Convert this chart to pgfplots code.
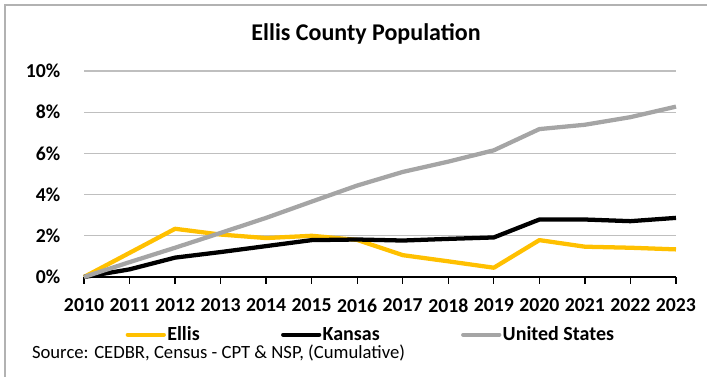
\documentclass[border=0pt]{standalone}
\usepackage{fontspec}
\setmainfont{Carlito}
\usepackage{pgfplots}
\pgfplotsset{compat=1.18}

\definecolor{ellisgold}{HTML}{FFC000}
\definecolor{usgray}{HTML}{A5A5A5}
\definecolor{gridgray}{HTML}{BFBFBF}

\begin{document}
\begin{tikzpicture}
% frame of the whole picture, 1px = 0.75pt
\path[use as bounding box] (0,0) rectangle (530.25pt,282.75pt);
\draw[gray!60, line width=1.2pt] (3.75pt,0) -- (3.75pt,279pt) -- (530.25pt,279pt);

\node[font=\bfseries\fontsize{18}{20}\selectfont] at (274.5pt,257.25pt) {Ellis County Population};

\begin{axis}[
    at={(63pt,75pt)}, anchor=south west,
    width=444pt, height=154.5pt, scale only axis,
    xmin=2010, xmax=2023, ymin=0, ymax=10,
    clip=false,
    axis lines*=left,
    y axis line style={draw=none},
    x axis line style={black, line width=1pt},
    xtick={2010,...,2023},
    ytick={0,2,4,6,8,10},
    tick align=outside,
    major tick length=5.25pt,
    xtick style={black, line width=1pt},
    ytick style={draw=none},
    ymajorgrids,
    grid style={gridgray, line width=1pt},
    /pgf/number format/assume math mode=true,
    /pgf/number format/1000 sep={},
    ticklabel style={font=\bfseries\fontsize{14.8}{16}\selectfont},
    yticklabel={\pgfmathprintnumber{\tick}\%},
    yticklabel style={xshift=-9pt},
    xticklabel style={yshift=-7.5pt},
    legend style={
        at={(axis description cs:0.484,-0.28)}, anchor=center,
        draw=none, fill=none,
        legend columns=3,
        font=\bfseries\fontsize{15}{16}\selectfont,
        /tikz/every even column/.append style={column sep=60pt},
        nodes={inner xsep=1pt},
    },
    legend image code/.code={\draw[#1, line cap=round] (0pt,0pt) -- (27pt,0pt);},
    every axis plot/.append style={line width=3.2pt, line join=round},
]
\addplot[ellisgold] coordinates {
    (2010,0) (2011,1.17) (2012,2.34) (2013,2.06) (2014,1.89) (2015,2.00) (2016,1.80)
    (2017,1.06) (2018,0.76) (2019,0.45) (2020,1.79) (2021,1.47) (2022,1.42) (2023,1.34)};
\addlegendentry{Ellis}
\addplot[black] coordinates {
    (2010,0) (2011,0.37) (2012,0.94) (2013,1.21) (2014,1.50) (2015,1.79) (2016,1.82)
    (2017,1.77) (2018,1.85) (2019,1.92) (2020,2.79) (2021,2.79) (2022,2.71) (2023,2.87)};
\addlegendentry{Kansas}
\addplot[usgray] coordinates {
    (2010,0) (2011,0.72) (2012,1.42) (2013,2.14) (2014,2.87) (2015,3.66) (2016,4.44)
    (2017,5.10) (2018,5.60) (2019,6.15) (2020,7.18) (2021,7.39) (2022,7.76) (2023,8.27)};
\addlegendentry{United States}
\end{axis}

\node[anchor=base west, font=\fontsize{14}{16}\selectfont] at (20.5pt,13.9pt)
    {Source: CEDBR, Census - CPT \& NSP, (Cumulative)};
\end{tikzpicture}
\end{document}
